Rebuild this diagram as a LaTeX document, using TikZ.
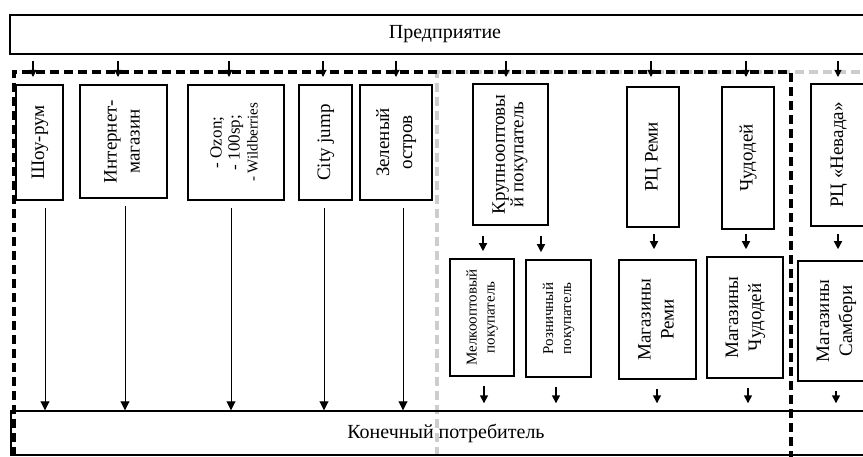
\documentclass[tikz,border=0pt]{standalone}
\usepackage{fontspec}
\setmainfont{Liberation Serif}
\usetikzlibrary{arrows.meta,calc}
\definecolor{lgray}{RGB}{205,205,205}
\newcommand{\vlab}[2][19]{\rotatebox{90}{\fontsize{#1}{23}\selectfont\begin{tabular}{@{}c@{}}#2\end{tabular}}}
\begin{document}
\begin{tikzpicture}[x=1pt,y=-1pt,
  box/.style={draw, line width=1.6pt, inner sep=0pt, align=center},
  wide/.style={draw, line width=1.4pt, inner sep=0pt, font=\fontsize{20}{24}\selectfont},
  larr/.style={-{Triangle[length=9pt,width=9pt]}, line width=0.9pt},
  sarr/.style={-{Triangle[length=8pt,width=8pt]}, line width=1.4pt},
  tarr/.style={-{Triangle[length=7pt,width=7pt]}, line width=1.1pt},
  bdash/.style={line width=3.6pt, dash pattern=on 9pt off 5pt},
  gdash/.style={lgray, line width=3.2pt, dash pattern=on 9pt off 5pt},
]
\useasboundingbox (0,0) rectangle (863,457);
\clip (0,0) rectangle (863,457);

% group frames
\draw[gdash] (437,470) -- (437,72) -- (880,72);
\draw[bdash] (14,470) -- (14,72) -- (791,72) -- (791,470);

% enterprise and consumer
\node[wide, minimum width=870, minimum height=39] (ent) at (445,34.5) {Предприятие};
\node[wide, minimum width=870, minimum height=44] (cons) at (446,433) {Конечный потребитель};
\coordinate (tl) at (0,77);

% first row
\node[box, minimum width=47, minimum height=115] (sr) at (39.5,142.5) {\vlab{Шоу-рум}};
\node[box, minimum width=87, minimum height=113] (im) at (123.5,141.5) {\vlab{Интернет-\\магазин}};
\node[box, minimum width=96, minimum height=115] (oz) at (236,142.5) {\rotatebox{90}{\fontsize{17}{18}\selectfont\begin{tabular}{@{}c@{}}- Ozon;\\- 100sp;\\{\fontsize{15}{17}\selectfont - Wildberries}\end{tabular}}};
\node[box, minimum width=53, minimum height=115] (cj) at (325.5,142.5) {\vlab{City jump}};
\node[box, minimum width=72, minimum height=115] (zo) at (396,142.5) {\vlab{Зеленый\\остров}};
\node[box, minimum width=75, minimum height=141] (kp) at (510.5,154.5) {\rotatebox{90}{\fontsize{19}{18}\selectfont\begin{tabular}{@{}c@{}}Крупнооптовы\\й покупатель\end{tabular}}};
\node[box, minimum width=52, minimum height=140] (rr) at (653,157) {\vlab{РЦ Реми}};
\node[box, minimum width=52, minimum height=142] (ch) at (748,158) {\vlab{Чудодей}};
\node[box, minimum width=55, minimum height=142] (nv) at (838.5,155) {\vlab{РЦ «Невада»}};

% second row
\node[box, minimum width=64, minimum height=117] (mp) at (482,317.5) {\rotatebox{90}{\fontsize{15}{18}\selectfont\begin{tabular}{@{}c@{}}Мелкооптовый\\покупатель\end{tabular}}};
\node[box, minimum width=65, minimum height=117] (rp) at (558.5,318.5) {\rotatebox{90}{\fontsize{15}{18}\selectfont\begin{tabular}{@{}c@{}}Розничный\\покупатель\end{tabular}}};
\node[box, minimum width=77, minimum height=119] (mr) at (657.5,319.5) {\vlab{Магазины\\Реми}};
\node[box, minimum width=76, minimum height=121] (mc) at (745,317.5) {\vlab{Магазины\\Чудодей}};
\node[box, minimum width=76, minimum height=120] (ms) at (836,321) {\vlab{Магазины\\Самбери}};

% arrows from the enterprise
\foreach \n/\dx in {sr/-6.5, im/-5.5, oz/-7, cj/-2.5, zo/0, kp/-4.5, rr/-2, ch/-2, nv/-0.5}
  \draw[tarr] ($(\n.north |- ent.south)+(\dx,6)$) -- ($(\n.north |- tl)+(\dx,0)$);

% long arrows to the consumer
\foreach \n/\dx in {sr/5.5, im/1.5, oz/-5, cj/-1.5, zo/7}
  \draw[larr] ($(\n.south)+(\dx,7)$) -- ($(\n.south |- cons.north)+(\dx,0)$);

% row 1 to row 2
\draw[sarr] ($(kp.south)+(-27.5,10)$) -- ($(mp.north)+(1,-7)$);
\draw[sarr] ($(kp.south)+(30.5,10)$) -- ($(rp.north)+(-17.5,-7)$);
\draw[sarr] ($(rr.south)+(1,6)$) -- ($(mr.north)+(-3.5,-10)$);
\draw[sarr] ($(ch.south)+(-2,4)$) -- ($(mc.north)+(1,-7)$);
\draw[sarr] ($(nv.south)+(-0.5,7)$) -- ($(ms.north)+(2,-11)$);

% row 2 to the consumer
\foreach \n/\dx in {mp/2, rp/-2.5, mr/-0.5, mc/3, ms/0}
  \draw[sarr] ($(\n.south)+(\dx,9)$) -- ($(\n.south |- cons.north)+(\dx,-7)$);
\end{tikzpicture}
\end{document}
